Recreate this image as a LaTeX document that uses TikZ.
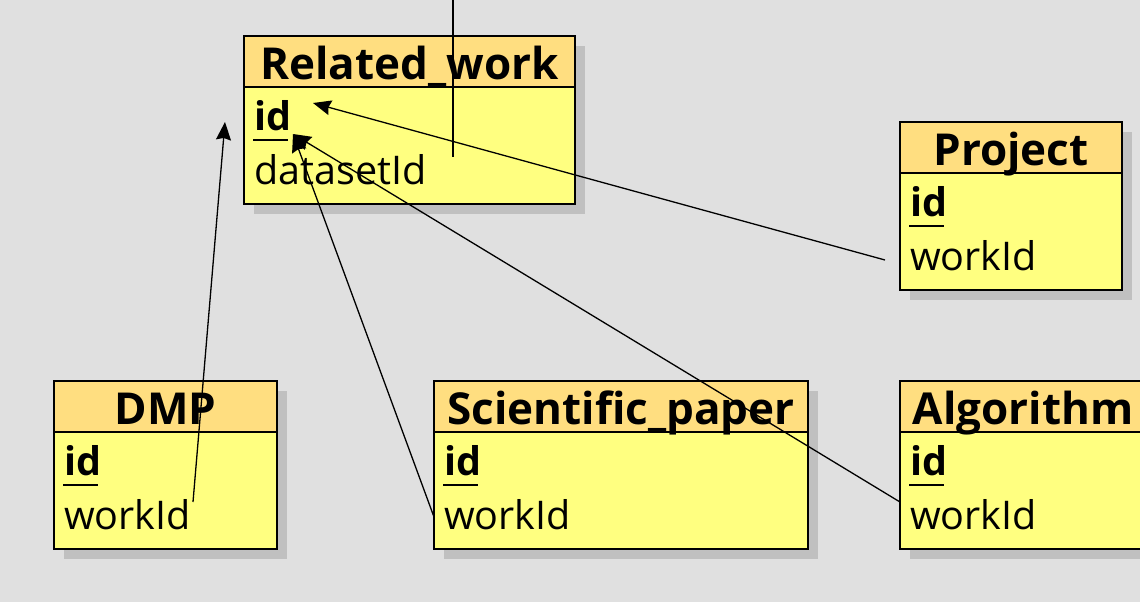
\documentclass[tikz,border=0pt]{standalone}
\usepackage{fontspec}
\setmainfont{Open Sans}
\usetikzlibrary{arrows.meta}
\definecolor{headfill}{RGB}{255,222,128}
\definecolor{bodyfill}{RGB}{255,255,128}
\definecolor{canvas}{RGB}{224,224,224}
\definecolor{shadefill}{RGB}{192,192,192}
\tikzset{>={Stealth[length=18pt,width=15pt,inset=2pt]}, % filled heads
}
% one table: name, left, top, right, title, second field
\newcommand{\entity}[6]{%
  \fill[shade] (#2+10,#3+10) rectangle (#4+10,#3+178);
  \draw[headbox] (#2,#3) rectangle (#4,#3+51);
  \draw[bodybox] (#2,#3+51) rectangle (#4,#3+168);
  \node[titletext] (#1) at ({(#2+#4)/2},#3+43) {#5};
  \node[fieldtext] (#1-id) at (#2+10,#3+94) {\textbf{id}};
  \draw[keyline] (#2+9,#3+104) -- (#2+44,#3+104);
  \node[fieldtext] (#1-f) at (#2+10,#3+148) {#6};
}

\begin{document}
\begin{tikzpicture}[x=1pt, y=-1pt,
	shade/.style={fill=shadefill},
	headbox/.style={draw=black, line width=2pt, fill=headfill},
	bodybox/.style={draw=black, line width=2pt, fill=bodyfill},
	titletext/.style={anchor=base, inner sep=0pt, font=\fontsize{44}{50}\selectfont\bfseries},
	fieldtext/.style={anchor=base west, inner sep=0pt, font=\fontsize{39.5}{44}\selectfont},
	keyline/.style={line width=2pt},
	link/.style={line width=1.3pt}]
\useasboundingbox (0,0) rectangle (1140,602);
\fill[canvas] (0,0) rectangle (1140,602);
\clip (0,0) rectangle (1140,602);

\entity{rw}{244}{36}{575}{Related\_work}{datasetId}
\entity{proj}{900}{122}{1122}{Project}{workId}
\entity{dmp}{54}{381}{277}{DMP}{workId}
\entity{sp}{434}{381}{808}{Scientific\_paper}{workId}
\entity{alg}{900}{381}{1146}{Algorithm}{workId}

% end points of the links
\coordinate (top) at (453,0);
\coordinate (rw-end) at (453,157);
\coordinate (tip-a) at (313,103);
\coordinate (tip-b) at (293,134);
\coordinate (tip-c) at (225,122);
\coordinate (proj-out) at (885,260);
\coordinate (sp-out) at (434,517);
\coordinate (alg-out) at (900,502);
\coordinate (dmp-out) at (193,502);

\draw[link] (top) -- (rw-end);
\draw[link, ->] (proj-out) -- (tip-a);
\draw[link, ->] (sp-out) -- (tip-b);
\draw[link, ->] (alg-out) -- (tip-b);
\draw[link, ->] (dmp-out) -- (tip-c);
\end{tikzpicture}
\end{document}
